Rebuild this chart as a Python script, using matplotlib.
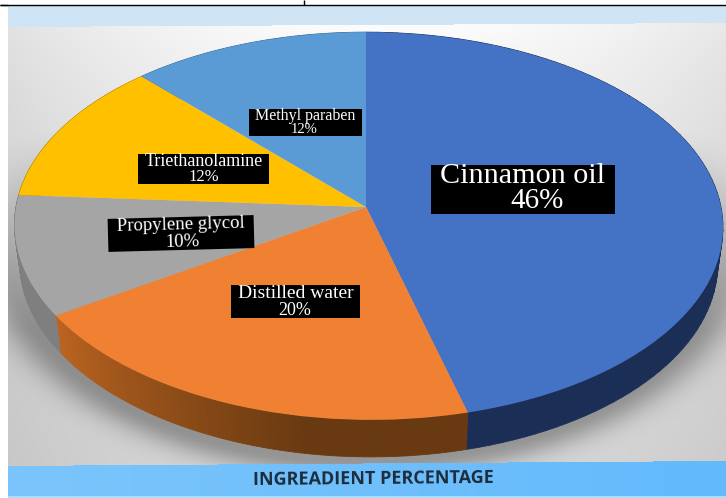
import numpy as np
import matplotlib
matplotlib.use("Agg")
import matplotlib.pyplot as plt
from matplotlib.transforms import Transform
from matplotlib.collections import PolyCollection
from matplotlib.patches import Rectangle
from matplotlib.colors import to_rgb

ingredients = ["Cinnamon oil", "Distilled water", "Propylene glycol", "Triethanolamine", "Methyl paraben"]
percentages = [46, 20, 10, 12, 12]
top_colors = ["#4472C4", "#F08032", "#A5A5A5", "#FFC000", "#5B9BD5"]
side_start = ["#1B2F56", "#BC6420", "#7F7F7F", "#A98000", "#3C6A94"]
side_end = ["#1B2F56", "#693A11", "#7F7F7F", "#A98000", "#3C6A94"]
title_text = "INGREADIENT PERCENTAGE"

W, H = 726, 498
CX, CY, RX, RY, K, SKEW = 366.0, 207.0, 352.5, 192.0, 0.098, 2.5
DEPTH, SHRINK = 37.0, 0.985


def project(u, v):
    w = 1 + K * v
    return CX + RX * u / w + SKEW * (u * u + v * v) * (1 - v), CY - RY * v / w


class Perspective(Transform):
    input_dims = output_dims = 2
    is_separable = False
    has_inverse = False

    def transform_non_affine(self, values):
        values = np.asarray(values, dtype=float)
        x, y = project(values[:, 0], values[:, 1])
        return np.column_stack([x, y])


fig = plt.figure(figsize=(W / 100, H / 100), dpi=100)
ax = fig.add_axes([0, 0, 1, 1])
wedges, _ = ax.pie(percentages, colors=top_colors, startangle=90, counterclock=False)
ax.set_xlim(0, W)
ax.set_ylim(H, 0)
ax.set_aspect("auto")
ax.axis("off")

# background: panel, tilted bands and soft shadow
yy, xx = np.mgrid[0:H, 0:W] + 0.5
lum = 252 - 26 * np.abs((xx - 390) / 380) ** 2 * (1 - 0.3 * (yy - 30) / 430) - 34 * np.clip((yy - 30) / 430, 0, 1) ** 0.8
rim = np.sqrt(((xx - CX) / 356) ** 2 + ((yy - 248) / 212) ** 2)
shade = np.exp(-(np.clip(rim - 1, 0, None) / 0.09) ** 2) * np.clip((yy - 130) / 200, 0, 1) * 68
lum = lum - shade
img = np.dstack([lum, lum, lum]) / 255
top_edge = 27 - 4 * xx / W
low_edge = 466 - 5 * xx / W
img[yy < top_edge] = np.array(to_rgb("#CFE4F4"))
mask = yy > low_edge
t = (xx / W)[..., None]
band = (1 - t) * np.array(to_rgb("#7CC5FB")) + t * np.array(to_rgb("#62BAFB"))
img[mask] = band[mask]
img[yy > 495.5] = np.array(to_rgb("#A9DBFB"))
img[xx < 8] = 1
img[yy < 5] = 1
ax.imshow(img, extent=(0, W, H, 0), aspect="auto", zorder=0, interpolation="bilinear")

# side wall from each wedge's own angles
for i, wedge in enumerate(wedges):
    th = np.radians(np.linspace(wedge.theta1, wedge.theta2, 90))
    x, y = project(np.cos(th), np.sin(th))
    xl, yl = CX + (x - CX) * SHRINK, y + DEPTH
    first, last = np.array(to_rgb(side_start[i])), np.array(to_rgb(side_end[i]))
    polys, cols = [], []
    for j in range(len(th) - 1):
        polys.append([(x[j], y[j]), (x[j + 1], y[j + 1]), (xl[j + 1], yl[j + 1]), (xl[j], yl[j])])
        f = min(1.0, 1.5 * j / (len(th) - 2))
        cols.append(first + (last - first) * f)
    ax.add_collection(PolyCollection(polys, facecolors=cols, edgecolors=cols, linewidths=0.6, zorder=1))

persp = Perspective() + ax.transData
for wedge in wedges:
    wedge.set_transform(persp)
    wedge.set_zorder(2)
    wedge.set_linewidth(0)
    wedge.set_clip_on(False)

# black label boxes: left, top, width, height, name y, pct y, pct x, name size, pct size, angle
boxes = [
    (431, 165, 184, 49, 176, 201, 537, 21.7, 21, 0),
    (231, 285, 129, 33, 293, 310, 295, 14, 13, 0),
    (108, 217, 146, 33, 225, 242, 182, 13.5, 13.5, 1.5),
    (138, 154, 131, 30, 161.5, 177, 204, 13, 12, 0),
    (249, 109, 113, 27, 115.5, 129.5, 304, 11.5, 10.5, 0),
]
for name, pct, (l, t_, w, h, ny, py, px, ns, ps, ang) in zip(ingredients, percentages, boxes):
    ax.add_patch(Rectangle((l, t_), w, h, facecolor="black", edgecolor="none", zorder=3,
                           angle=-ang, rotation_point="center"))
    ax.text(l + w / 2, ny, name, color="white", ha="center", va="center", fontsize=ns,
            family="Liberation Serif", rotation=ang, zorder=4)
    ax.text(px, py, f"{pct}%", color="white", ha="center", va="center", fontsize=ps,
            family="Liberation Serif", rotation=ang, zorder=4)

ax.text(373, 478.5, title_text, color="#1C2B3C", ha="center", va="center", fontsize=13,
        fontweight="bold", family="Open Sans", rotation=0.5, zorder=4)

# stray table rules at the very top
ax.plot([0, W], [4.5, 4.5], color="black", lw=1.0, zorder=5, solid_capstyle="butt")
ax.plot([0, 8], [5.2, 5.2], color="black", lw=1.0, zorder=5, solid_capstyle="butt")
ax.plot([304, 304], [0, 4.5], color="black", lw=1.0, zorder=5, solid_capstyle="butt")

fig.savefig("out.png", dpi=100)
